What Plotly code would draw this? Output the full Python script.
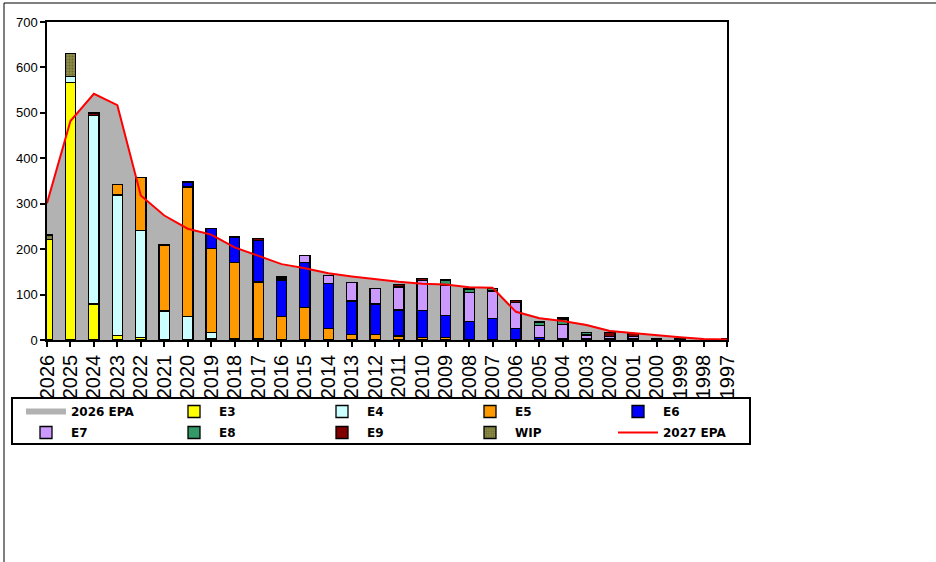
import plotly.graph_objects as go

years = [str(y) for y in range(2026, 1996, -1)]

EPA_2026 = [305, 480, 541, 517, 320, 272, 245, 235, 205, 188, 165, 157, 147, 140, 134,
            128, 124, 121, 117, 116, 65, 50, 42, 35, 22, 16, 10, 7, 3, 1]
EPA_2027 = [301, 482, 542, 517, 318, 274, 245, 232, 204, 186, 167, 158, 147, 140, 134,
            128, 124, 122, 116, 115, 62, 48, 42, 33, 20, 15, 10, 6, 2, 1]

E3 = [222, 567, 79, 10, 6, 0, 0, 3, 0, 0, 0, 0, 0, 0, 0,
      0, 0, 0, 0, 0, 0, 0, 0, 0, 0, 0, 0, 0, 0, 0]
E4 = [0, 13, 415, 309, 235, 64, 51, 13, 3, 4, 0, 0, 0, 0, 0,
      0, 0, 0, 0, 0, 0, 0, 0, 0, 0, 0, 0, 0, 0, 0]
E5 = [0, 0, 0, 24, 117, 145, 286, 186, 167, 124, 51, 72, 26, 12, 12,
      9, 5, 5, 0, 0, 0, 0, 0, 0, 0, 0, 0, 0, 0, 0]
E6 = [0, 0, 0, 0, 0, 0, 11, 43, 57, 91, 81, 99, 99, 74, 67,
      57, 60, 49, 41, 47, 26, 6, 4, 2, 4, 4, 0, 0, 0, 0]
E7 = [0, 0, 0, 0, 0, 0, 0, 0, 0, 0, 4, 15, 17, 40, 35,
      51, 66, 67, 63, 61, 56, 26, 30, 9, 4, 4, 1, 0, 0, 0]
E8 = [0, 0, 0, 0, 0, 0, 0, 0, 0, 0, 0, 0, 0, 0, 0,
      0, 0, 11, 8, 6, 0, 6, 12, 6, 0, 0, 0, 0, 0, 0]
E9 = [0, 0, 6, 0, 0, 0, 0, 0, 0, 5, 3, 0, 0, 0, 0,
      5, 5, 0, 0, 0, 5, 3, 3, 0, 9, 7, 3, 2, 0, 4]
WIP = [9, 50, 0, 0, 0, 0, 0, 0, 0, 0, 0, 0, 0, 0, 0,
       0, 0, 0, 0, 0, 0, 0, 0, 0, 0, 0, 0, 0, 0, 0]

series = [
    ("E3", E3, "#FFFF00", "legend"),
    ("E4", E4, "#CCFFFF", "legend"),
    ("E5", E5, "#FF9900", "legend"),
    ("E6", E6, "#0000FF", "legend"),
    ("E7", E7, "#CC99FF", "legend2"),
    ("E8", E8, "#339966", "legend2"),
    ("E9", E9, "#800000", "legend2"),
]

x_idx = list(range(len(years)))
FONT = "Liberation Sans, Arial, sans-serif"

fig = go.Figure()
fig.add_trace(go.Scatter(
    x=x_idx, y=EPA_2026, name="2026 EPA", mode="none", fill="tozeroy",
    fillcolor="#B2B2B2", legend="legend", hoverinfo="skip"))

for name, vals, col, lg in series:
    fig.add_trace(go.Bar(
        x=x_idx, y=[v if v else None for v in vals], name=name,
        width=0.44, marker=dict(color=col, line=dict(color="black", width=1.3)),
        xaxis="x2", yaxis="y2", legend=lg))

fig.add_trace(go.Bar(
    x=x_idx, y=[v if v else None for v in WIP], name="WIP", width=0.44,
    marker=dict(color="#8C8C46", line=dict(color="black", width=1.3),
                pattern=dict(shape=".", fgcolor="#4A4A22", bgcolor="#8C8C46",
                             size=3, solidity=0.35)),
    xaxis="x2", yaxis="y2", legend="legend2"))

fig.add_trace(go.Scatter(
    x=x_idx, y=EPA_2027, name="2027 EPA", mode="lines",
    line=dict(color="#FF0000", width=2), xaxis="x2", yaxis="y2", legend="legend2"))

L, T, W, H = 47, 22, 680, 318
def px(x):
    return (x - L) / W
def py(y):
    return (T + H - y) / H

axis_common = dict(showline=True, linecolor="black", linewidth=1.5, mirror=True,
                   ticks="outside", ticklen=5, tickcolor="black", tickwidth=1.5,
                   showgrid=False, zeroline=False)

legend_common = dict(orientation="h", xanchor="right", yanchor="top",
                     traceorder="normal",
                     bgcolor="rgba(0,0,0,0)", borderwidth=0,
                     font=dict(family="DejaVu Sans, sans-serif", size=12,
                               color="black", weight="bold"),
                     entrywidth=93, entrywidthmode="pixels", itemwidth=40,
                     tracegroupgap=0, itemclick=False)

fig.update_layout(
    width=936, height=562,
    margin=dict(l=L, r=936 - L - W, t=T, b=562 - T - H, pad=0),
    paper_bgcolor="white", plot_bgcolor="white",
    barmode="stack",
    font=dict(family=FONT, color="black"),
    xaxis=dict(range=[0, 29], tickmode="array", tickvals=x_idx, ticktext=years,
               tickangle=-90, tickfont=dict(size=20, family=FONT), **axis_common),
    yaxis=dict(range=[0, 700], dtick=100, tickfont=dict(size=13, family=FONT),
               ticklabelstandoff=0, **axis_common),
    xaxis2=dict(overlaying="x", range=[0, 29], visible=False),
    yaxis2=dict(overlaying="y", range=[0, 700], visible=False),
    legend=dict(x=px(761), y=py(397), **legend_common),
    legend2=dict(x=px(761), y=py(418), **legend_common),
    showlegend=True,
    shapes=[
        dict(type="rect", xref="paper", yref="paper",
             x0=px(12), x1=px(750), y0=py(444), y1=py(398),
             line=dict(color="black", width=2), fillcolor="rgba(0,0,0,0)"),
        dict(type="rect", xref="paper", yref="paper",
             x0=px(4), x1=px(960), y0=py(580), y1=py(3),
             line=dict(color="black", width=1), fillcolor="rgba(0,0,0,0)"),
    ],
)

fig.write_html("out.html", config={"displayModeBar": False},
               post_script="document.body.style.margin='0';")
